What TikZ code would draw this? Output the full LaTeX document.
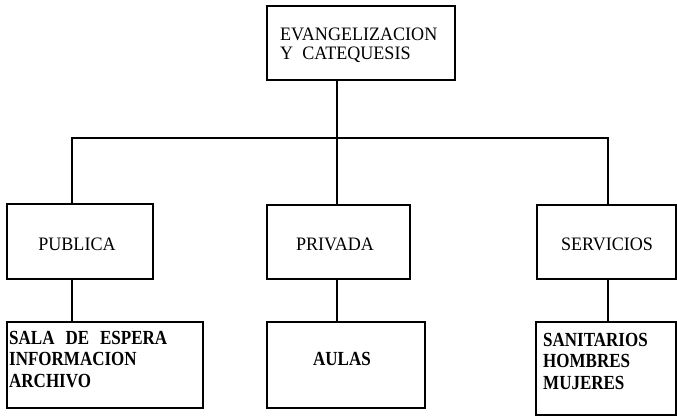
\documentclass[tikz,border=0pt]{standalone}
\usepackage{fontspec}
\setmainfont{Liberation Serif}
\newfontfamily\regcond[FakeStretch=0.95]{Liberation Serif}
\newfontfamily\boldcond[FakeStretch=0.85]{Liberation Serif}
\begin{document}
\begin{tikzpicture}[x=1pt,y=-1pt,
  box/.style={draw, line width=1.2pt, rectangle, inner sep=0pt},
  conn/.style={line width=1.2pt},
  lbl/.style={inner sep=0pt, font=\regcond\fontsize{19}{19}\selectfont},
  mlbl/.style={inner sep=0pt, align=left, font=\regcond\fontsize{19}{19}\selectfont},
  blbl/.style={inner sep=0pt, align=left, font=\boldcond\fontsize{20}{21.5}\selectfont\bfseries}]
\useasboundingbox (0,0) rectangle (677,417);
% boxes
\node[box, minimum width=188pt, minimum height=74pt] (top) at (361,43) {};
\node[box, minimum width=146pt, minimum height=75pt] (pub) at (80,241.5) {};
\node[box, minimum width=143pt, minimum height=74pt] (priv) at (338.5,242) {};
\node[box, minimum width=139pt, minimum height=74pt] (serv) at (606.5,242) {};
\node[box, minimum width=196pt, minimum height=86pt] (sala) at (105,365) {};
\node[box, minimum width=158pt, minimum height=86pt] (aulas) at (346,365) {};
\node[box, minimum width=140pt, minimum height=93pt] (sanit) at (606,368.5) {};
% texts
\node[mlbl, anchor=north west] (ttop) at (280,28) {EVANGELIZACION\\Y\ \ CATEQUESIS};
\node[lbl, anchor=base] (tpub) at (77,250) {PUBLICA};
\node[lbl, anchor=base] (tpriv) at (335,250) {PRIVADA};
\node[lbl, anchor=base] (tserv) at (607,250) {SERVICIOS};
\node[blbl, anchor=north west] (tsala) at (9,331) {SALA\hspace{11pt}DE\hspace{11pt}ESPERA\\INFORMACION\\ARCHIVO};
\node[blbl, anchor=base] (taulas) at (342,365) {AULAS};
\node[blbl, anchor=north west] (tsanit) at (543,333) {SANITARIOS\\HOMBRES\\MUJERES};
% connectors
\coordinate (bl) at (72,138);
\coordinate (br) at (608,138);
\coordinate (bm) at (337,138);
\draw[conn] (bm |- top.south) -- (bm |- priv.north);
\draw[conn] (bl |- pub.north) -- (bl) -- (br) -- (br |- serv.north);
\draw[conn] (bl |- pub.south) -- (bl |- sala.north);
\draw[conn] (bm |- priv.south) -- (bm |- aulas.north);
\draw[conn] (br |- serv.south) -- (br |- sanit.north);
\end{tikzpicture}
\end{document}
